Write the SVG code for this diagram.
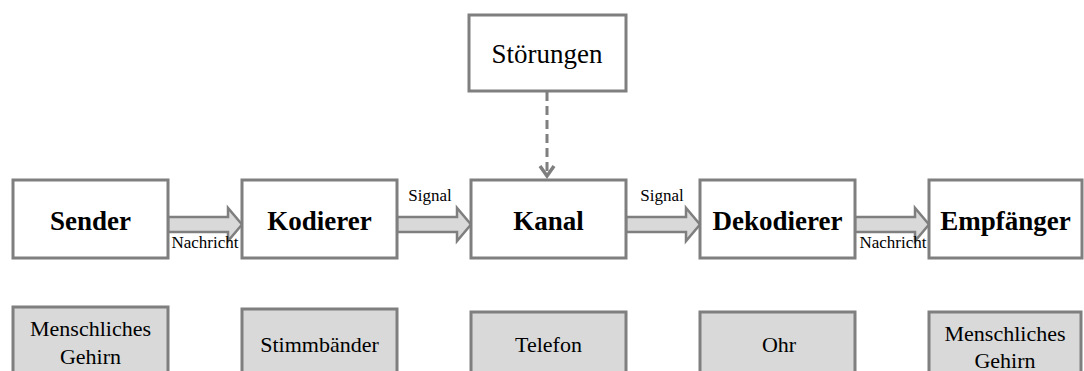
<svg xmlns="http://www.w3.org/2000/svg" width="1084" height="371" viewBox="0 0 1084 371">
<style>
.box{fill:#fff;stroke:#7f7f7f;stroke-width:3}
.sub{fill:#d9d9d9;stroke:#7f7f7f;stroke-width:3}
.arr{fill:#d9d9d9;stroke:#7f7f7f;stroke-width:2.5;stroke-linejoin:miter}
.t{font-family:"Liberation Serif","Times New Roman",serif;fill:#000;text-anchor:middle}
.b{font-weight:bold;font-size:27px}
.r{font-size:27px}
.s{font-size:17px}
.m{font-size:22px}
</style>
<g id="connectors">
<path class="arr" d="M168,217 H228 V208 L242,224.5 L228,241 V232 H168 Z"/>
<path class="arr" d="M397,217 H457 V208 L471,224.5 L457,241 V232 H397 Z"/>
<path class="arr" d="M626,217 H686 V208 L700,224.5 L686,241 V232 H626 Z"/>
<path class="arr" d="M855,217 H915 V208 L929,224.5 L915,241 V232 H855 Z"/>
<line x1="547" y1="92" x2="547" y2="175" stroke="#7f7f7f" stroke-width="3" stroke-dasharray="9,5"/>
<path d="M540,166 L547,176 L554,166" fill="none" stroke="#7f7f7f" stroke-width="3.5"/>
<text class="t s" x="205" y="248">Nachricht</text>
<text class="t s" x="430" y="201">Signal</text>
<text class="t s" x="662" y="201">Signal</text>
<text class="t s" x="893" y="248">Nachricht</text>
</g>
<g id="stoerungen">
<rect class="box" x="469" y="15" width="157" height="76"/>
<text class="t r" x="547" y="63">Störungen</text>
</g>
<g id="sender">
<rect class="box" x="13" y="180" width="155" height="78"/>
<text class="t b" x="90.5" y="230">Sender</text>
</g>
<g id="kodierer">
<rect class="box" x="242" y="180" width="155" height="78"/>
<text class="t b" x="319.5" y="230">Kodierer</text>
</g>
<g id="kanal">
<rect class="box" x="471" y="180" width="155" height="78"/>
<text class="t b" x="548.5" y="230">Kanal</text>
</g>
<g id="dekodierer">
<rect class="box" x="700" y="180" width="155" height="78"/>
<text class="t b" x="777.5" y="230">Dekodierer</text>
</g>
<g id="empfaenger">
<rect class="box" x="929" y="180" width="153" height="78"/>
<text class="t b" x="1005.5" y="230">Empfänger</text>
</g>
<g id="gehirn1">
<rect class="sub" x="13" y="307" width="155" height="80"/>
<text class="t m" x="90.5" y="336">Menschliches</text>
<text class="t m" x="90.5" y="364">Gehirn</text>
</g>
<g id="stimmbaender">
<rect class="sub" x="242" y="309" width="155" height="80"/>
<text class="t m" x="319.5" y="352">Stimmbänder</text>
</g>
<g id="telefon">
<rect class="sub" x="471" y="312" width="155" height="80"/>
<text class="t m" x="548.5" y="352">Telefon</text>
</g>
<g id="ohr">
<rect class="sub" x="700" y="312" width="155" height="80"/>
<text class="t m" x="779" y="352">Ohr</text>
</g>
<g id="gehirn2">
<rect class="sub" x="929" y="312" width="152" height="80"/>
<text class="t m" x="1005" y="341">Menschliches</text>
<text class="t m" x="1005" y="368">Gehirn</text>
</g>
</svg>
